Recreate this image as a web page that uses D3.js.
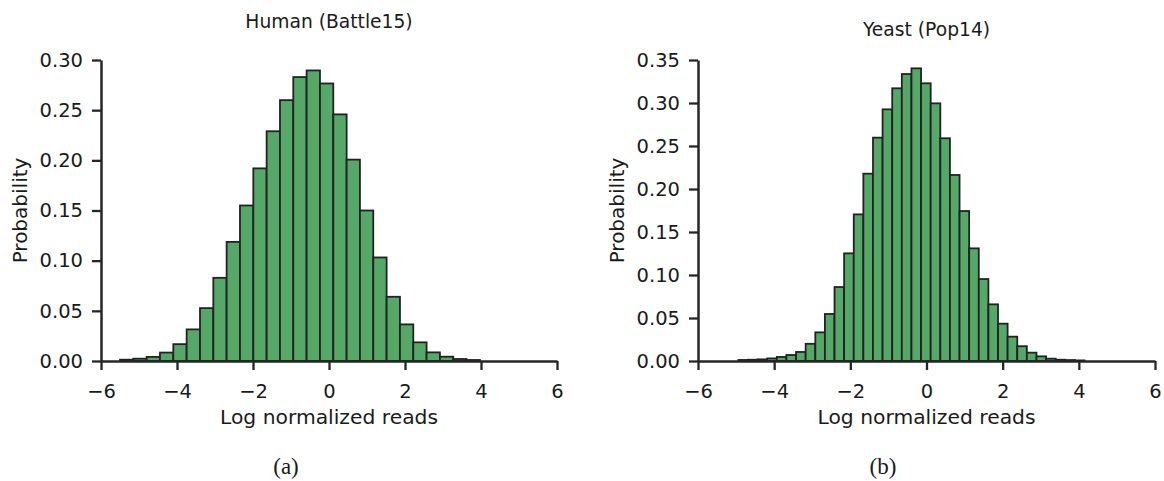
<!DOCTYPE html>
<html>
<head>
<meta charset="utf-8">
<script src="https://cdn.jsdelivr.net/npm/d3@7"></script>
<style>
  body { margin: 0; background: #fff; }
  text { fill: #1a1a1a; }
</style>
</head>
<body>
<svg width="1164" height="481"></svg>
<script>
// bin edges and probabilities
const humanEdges = [-5.500, -5.149, -4.798, -4.448, -4.097, -3.746, -3.395, -3.044, -2.694, -2.343,
    -1.992, -1.641, -1.290, -0.940, -0.589, -0.238, 0.113, 0.464, 0.814, 1.165,
    1.516, 1.867, 2.218, 2.568, 2.919, 3.270, 3.621, 3.972];
const humanProb = [0.0013, 0.0023, 0.0041, 0.0084, 0.0168, 0.0315, 0.0527, 0.0829, 0.1187, 0.155,
    0.192, 0.229, 0.260, 0.283, 0.2896, 0.2766, 0.2458, 0.2007, 0.150, 0.1032,
    0.064, 0.0365, 0.0186, 0.0086, 0.0043, 0.002, 0.001];

const yeastEdges = [-4.940, -4.688, -4.435, -4.183, -3.930, -3.678, -3.425, -3.173, -2.920, -2.668,
    -2.415, -2.163, -1.910, -1.658, -1.405, -1.153, -0.900, -0.648, -0.395, -0.143,
    0.110, 0.363, 0.615, 0.868, 1.120, 1.373, 1.625, 1.878, 2.130, 2.383,
    2.635, 2.888, 3.140, 3.393, 3.645, 3.898, 4.150];
const yeastProb = [0.0012, 0.0015, 0.0019, 0.0030, 0.0047, 0.0070, 0.0105, 0.0200, 0.0333, 0.0547,
    0.0860, 0.1252, 0.1705, 0.2178, 0.2597, 0.2926, 0.3171, 0.3337, 0.3403, 0.3229,
    0.2996, 0.2590, 0.2163, 0.1744, 0.1310, 0.0953, 0.0659, 0.0434, 0.0283, 0.0172,
    0.0097, 0.0054, 0.0027, 0.0015, 0.0011, 0.0007];

const xTicks = [-6, -4, -2, 0, 2, 4, 6];
const humanYTicks = [0, 0.05, 0.10, 0.15, 0.20, 0.25, 0.30];
const yeastYTicks = [0, 0.05, 0.10, 0.15, 0.20, 0.25, 0.30, 0.35];

const panels = [
    { title: 'Human (Battle15)', caption: '(a)', edges: humanEdges, prob: humanProb,
      yTicks: humanYTicks, yMax: 0.30, left: 101, right: 557, titleY: 28, capX: 286 },
    { title: 'Yeast (Pop14)', caption: '(b)', edges: yeastEdges, prob: yeastProb,
      yTicks: yeastYTicks, yMax: 0.35, left: 698, right: 1155, titleY: 36, capX: 883 }
];

const svg = d3.select('svg');
const plotTop = 60, plotBottom = 361;
const font = '"DejaVu Sans", sans-serif';
const ink = '#262626';

panels.forEach(p => {
    const g = svg.append('g');

    const x = d3.scaleLinear().domain([-6, 6]).range([p.left, p.right]);
    const y = d3.scaleLinear().domain([0, p.yMax]).range([plotBottom, plotTop]);

    const bins = p.prob.map((v, i) => ({ x0: p.edges[i], x1: p.edges[i + 1], v: v }));

    // bars
    g.selectAll('rect.bar')
        .data(bins)
        .enter()
        .append('rect')
        .attr('class', 'bar')
        .attr('x', d => x(d.x0))
        .attr('width', d => x(d.x1) - x(d.x0))
        .attr('y', d => y(d.v))
        .attr('height', d => plotBottom - y(d.v))
        .attr('fill', '#55a868')
        .attr('stroke', '#222')
        .attr('stroke-width', 1.8);

    // x axis
    const xAxis = g.append('g')
        .attr('transform', `translate(0,${plotBottom})`)
        .call(d3.axisBottom(x).tickValues(xTicks).tickFormat(d3.format('d'))
            .tickSize(9).tickSizeOuter(0).tickPadding(14));

    // y axis
    const yAxis = g.append('g')
        .attr('transform', `translate(${p.left},0)`)
        .call(d3.axisLeft(y).tickValues(p.yTicks).tickFormat(d3.format('.2f'))
            .tickSize(9).tickSizeOuter(0).tickPadding(9));

    [xAxis, yAxis].forEach(a => {
        a.select('.domain').attr('stroke', ink).attr('stroke-width', 2.5);
        a.selectAll('.tick line').attr('stroke', ink).attr('stroke-width', 2.3);
        a.selectAll('.tick text')
            .style('font-family', font)
            .style('font-size', '19.5px')
            .attr('fill', '#1a1a1a');
    });

    const cx = (p.left + p.right) / 2;

    g.append('text')
        .text(p.title)
        .attr('x', cx)
        .attr('y', p.titleY)
        .attr('text-anchor', 'middle')
        .style('font-family', font)
        .style('font-size', '18.7px');

    g.append('text')
        .text('Log normalized reads')
        .attr('x', cx)
        .attr('y', 424)
        .attr('text-anchor', 'middle')
        .style('font-family', font)
        .style('font-size', '20.3px');

    g.append('text')
        .text('Probability')
        .attr('transform', `translate(${p.left - 74},${(plotTop + plotBottom) / 2}) rotate(-90)`)
        .attr('text-anchor', 'middle')
        .style('font-family', font)
        .style('font-size', '20px');

    g.append('text')
        .text(p.caption)
        .attr('x', p.capX)
        .attr('y', 474)
        .attr('text-anchor', 'middle')
        .style('font-family', '"Liberation Serif", serif')
        .style('font-size', '23px');
});
</script>
</body>
</html>
